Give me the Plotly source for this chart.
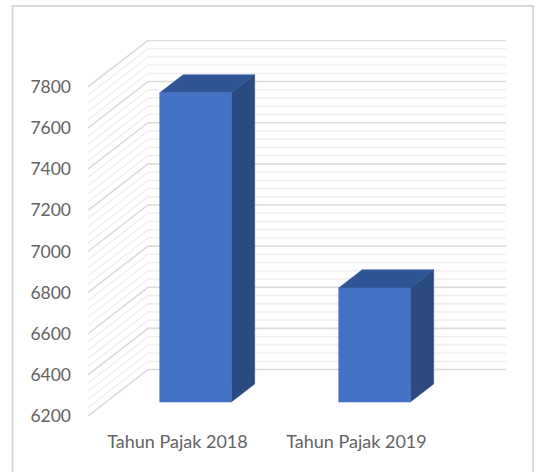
import plotly.graph_objects as go

categories = ["Tahun Pajak 2018", "Tahun Pajak 2019"]
values = [7703, 6755]
major_ticks = [6200, 6400, 6600, 6800, 7000, 7200, 7400, 7600, 7800]
minor_ticks = [6240, 6280, 6320, 6360, 6440, 6480, 6520, 6560, 6640, 6680, 6720, 6760,
               6840, 6880, 6920, 6960, 7040, 7080, 7120, 7160, 7240, 7280, 7320, 7360,
               7440, 7480, 7520, 7560, 7640, 7680, 7720, 7760]

W, H = 536, 472
L, R, T, B = 88, 506, 39.5, 416
PX_PER_CAT = 179.0
PX_PER_UNIT = 41.2 / 200
BASE = major_ticks[0]
DEPTH_X = 60 / PX_PER_CAT
DEPTH_Y = 46.5 / PX_PER_UNIT
X0 = -0.5
X1 = X0 + (R - L) / PX_PER_CAT
Y1 = BASE + (B - T) / PX_PER_UNIT
BAR_W = 0.4
D_FRONT, D_BACK = 0.30, 0.69


def wall(ticks):
    xs, ys = [], []
    for v in ticks:
        xs += [X0, X0 + DEPTH_X, X1, None]
        ys += [v, v + DEPTH_Y, v + DEPTH_Y, None]
    return xs, ys


fig = go.Figure()
for ticks, color, width in [(minor_ticks, "#eeeeee", 1.3), (major_ticks, "#dcdcdc", 1.6)]:
    xs, ys = wall(ticks)
    fig.add_trace(go.Scatter(x=xs, y=ys, mode="lines", line=dict(color=color, width=width),
                             hoverinfo="skip", showlegend=False, cliponaxis=False))


def face(xs, ys, color, name=None):
    fig.add_trace(go.Scatter(x=xs, y=ys, mode="lines", fill="toself", fillcolor=color,
                             line=dict(color=color, width=0.5), showlegend=False,
                             hoverinfo="skip" if name is None else "text", text=name,
                             cliponaxis=False))


for i, (cat, val) in enumerate(zip(categories, values)):
    xl = i - BAR_W / 2 + D_FRONT * DEPTH_X
    xr = i + BAR_W / 2 + D_FRONT * DEPTH_X
    y0 = BASE + D_FRONT * DEPTH_Y
    y1 = val + D_FRONT * DEPTH_Y
    dx = (D_BACK - D_FRONT) * DEPTH_X
    dy = (D_BACK - D_FRONT) * DEPTH_Y
    face([xr, xr + dx, xr + dx, xr, xr], [y0, y0 + dy, y1 + dy, y1, y0], "#2a4a80")
    face([xl, xl + dx, xr + dx, xr, xl], [y1, y1 + dy, y1 + dy, y1, y1], "#2f5597")
    face([xl, xr, xr, xl, xl], [y0, y0, y1, y1, y0], "#4472c4", f"{cat}: {val}")

xfont = dict(family="Lato, Carlito, sans-serif", size=18, color="#636363")
yfont = dict(family="Lato, Carlito, sans-serif", size=17.5, color="#636363")
fig.update_layout(
    width=W, height=H, autosize=False,
    margin=dict(l=L, r=W - R, t=T, b=H - B, pad=0),
    paper_bgcolor="white", plot_bgcolor="rgba(0,0,0,0)",
    showlegend=False,
    xaxis=dict(range=[X0, X1], tickmode="array", tickvals=[0, 1], ticktext=categories,
               showgrid=False, zeroline=False, showline=False, ticks="", tickfont=xfont,
               ticklabelstandoff=13, fixedrange=True),
    yaxis=dict(range=[BASE, Y1], tickmode="array", tickvals=major_ticks,
               ticktext=[str(v) for v in major_ticks], showgrid=False, zeroline=False,
               showline=False, ticks="", tickfont=yfont, ticklabelstandoff=16,
               fixedrange=True),
    shapes=[dict(type="rect", xref="paper", yref="paper", layer="below",
                 x0=(12.5 - L) / (R - L), x1=(533 - L) / (R - L),
                 y0=-0.3, y1=(B - 5.5) / (B - T),
                 line=dict(color="#d9d9d9", width=2), fillcolor="white")],
)
fig.write_html("out.html", config={"displayModeBar": False},
               post_script="document.body.style.margin='0';")
